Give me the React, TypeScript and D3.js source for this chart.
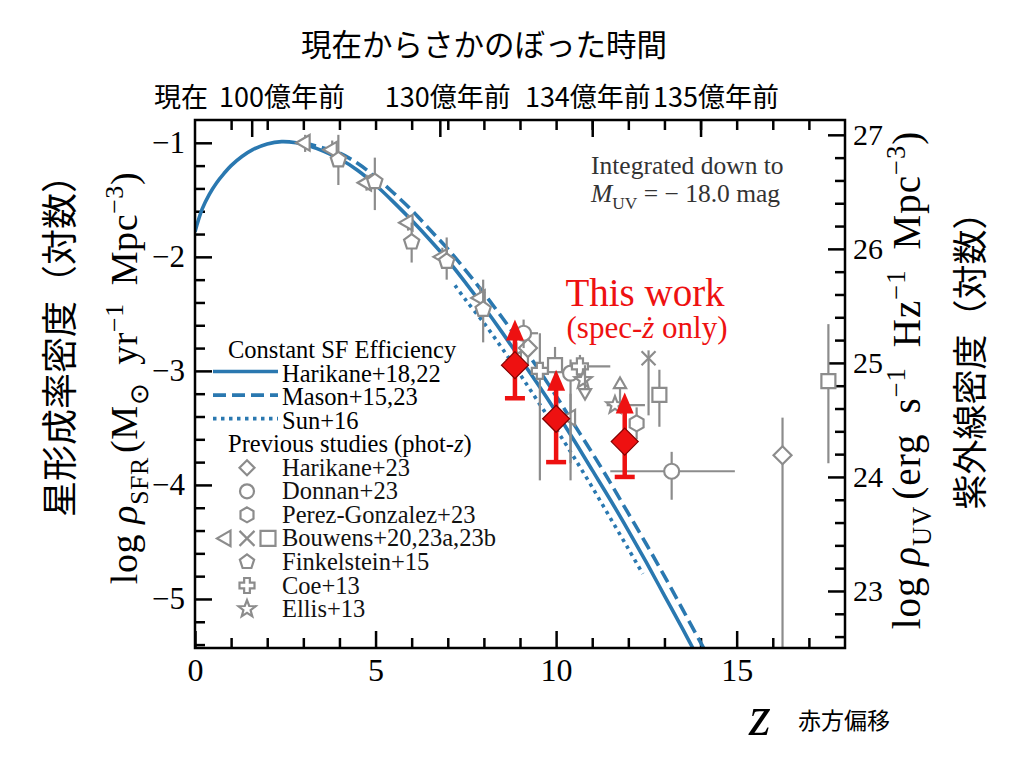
import * as d3 from "d3";
import { useEffect, useRef } from "react";

// model curves: [z, log SFR density]
const harikaneCurve: [number, number][] = [
  [0, -1.78], [0.2, -1.58], [0.4, -1.45], [0.6, -1.35], [0.8, -1.27],
  [1.0, -1.2], [1.3, -1.12], [1.6, -1.06], [2.0, -1.01], [2.4, -0.99],
  [2.8, -1.0], [3.2, -1.03], [3.6, -1.08], [4.0, -1.14], [4.5, -1.24],
  [5.0, -1.37], [5.5, -1.52], [6.0, -1.68], [6.5, -1.85], [7.0, -2.03],
  [7.5, -2.23], [8.0, -2.44], [8.5, -2.66], [9.0, -2.89], [9.5, -3.12],
  [10.0, -3.36], [10.5, -3.61], [11.0, -3.87], [11.5, -4.13], [12.0, -4.4],
  [12.5, -4.68], [13.0, -4.97], [13.5, -5.26], [14.0, -5.56],
];
const masonCurve: [number, number][] = [
  [3.0, -1.0], [3.5, -1.04], [4.0, -1.09], [4.5, -1.18], [5.0, -1.3],
  [5.5, -1.44], [6.0, -1.59], [6.5, -1.76], [7.0, -1.93], [7.5, -2.12],
  [8.0, -2.32], [8.5, -2.53], [9.0, -2.75], [9.5, -2.98], [10.0, -3.22],
  [10.5, -3.47], [11.0, -3.72], [11.5, -3.98], [12.0, -4.25], [12.5, -4.52],
  [13.0, -4.8], [13.5, -5.09], [14.0, -5.38], [14.3, -5.56],
];
const sunCurve: [number, number][] = [
  [7.2, -2.25], [7.5, -2.38], [8.0, -2.58], [8.5, -2.8], [9.0, -3.03],
  [9.5, -3.27], [10.0, -3.51], [10.5, -3.76], [11.0, -4.02], [11.5, -4.29],
  [12.0, -4.56], [12.4, -4.78],
];

// previous studies (phot-z)
type Pt = { z: number; y: number; lo?: number; hi?: number; zlo?: number; zhi?: number };
const bouwens20: Pt[] = [
  { z: 3.05, y: -1.0, lo: -1.08, hi: -0.93 },
  { z: 3.8, y: -1.06, lo: -1.13, hi: -0.98 },
  { z: 4.75, y: -1.35, lo: -1.42, hi: -1.28 },
  { z: 5.9, y: -1.7, lo: -1.77, hi: -1.63 },
  { z: 6.85, y: -2.0, lo: -2.08, hi: -1.92 },
  { z: 7.9, y: -2.36, lo: -2.46, hi: -2.26 },
  { z: 8.9, y: -2.9, lo: -3.05, hi: -2.75 },
  { z: 10.4, y: -3.41, lo: -3.81, hi: -3.2 },
];
const bouwens23x: Pt[] = [{ z: 12.56, y: -2.89, lo: -3.39, hi: -2.82 }];
const bouwens23sq: Pt[] = [
  { z: 9.97, y: -2.95, lo: -3.14, hi: -2.79 },
  { z: 12.86, y: -3.21, lo: -3.49, hi: -2.99 },
  { z: 17.54, y: -3.09, lo: -3.81, hi: -2.59 },
];
const finkelstein15: Pt[] = [
  { z: 3.97, y: -1.15, lo: -1.37, hi: -0.93 },
  { z: 4.98, y: -1.34, lo: -1.59, hi: -1.13 },
  { z: 6.0, y: -1.87, lo: -2.05, hi: -1.7 },
  { z: 6.97, y: -2.04, lo: -2.2, hi: -1.83 },
  { z: 7.98, y: -2.46, lo: -2.75, hi: -2.2 },
];
const harikane23: Pt[] = [
  { z: 9.22, y: -2.8, lo: -2.95, hi: -2.68 },
  { z: 16.27, y: -3.74, lo: -5.6, hi: -3.41 },
];
const donnan23: Pt[] = [
  { z: 9.1, y: -2.67, lo: -2.8, hi: -2.55, zlo: 8.8, zhi: 9.5 },
  { z: 10.4, y: -3.02, lo: -3.96, hi: -2.9 },
  { z: 13.2, y: -3.88, lo: -4.13, hi: -3.71, zlo: 11.5, zhi: 14.95 },
];
const perezGonzalez23: Pt[] = [{ z: 12.23, y: -3.46, lo: -3.6, hi: -3.32 }];
const coe13: Pt[] = [
  { z: 9.55, y: -3.0, lo: -3.96, hi: -2.67, zlo: 9.3, zhi: 9.8 },
  { z: 10.66, y: -2.96, lo: -3.06, hi: -2.86, zlo: 10.4, zhi: 11.5 },
];
const ellis13: Pt[] = [
  { z: 10.75, y: -3.08 },
  { z: 11.63, y: -3.3, zlo: 11.4, zhi: 12.46 },
];
const lowerLimits: Pt[] = [{ z: 11.77, y: -3.12, lo: -3.3, hi: -3.12 }];
const upperLimits: Pt[] = [{ z: 10.8, y: -3.19, lo: -3.19, hi: -2.95 }];

// this work (spec-z only): lower error and arrow tip
const thisWorkZ = [8.86, 10.0, 11.9];
const thisWorkY = [-2.95, -3.42, -3.62];
const thisWorkLo = [-3.24, -3.8, -3.93];
const thisWorkTip = [-2.55, -2.99, -3.19];

const X_DOMAIN: [number, number] = [0, 18];
const Y_DOMAIN: [number, number] = [-5.43, -0.8];
const UV_OFFSET = 27.93;
const xTicks = [0, 5, 10, 15];
const yTicks = [-1, -2, -3, -4, -5];
const uvTicks = [23, 24, 25, 26, 27];
const topTickZ = [1.57, 6.78, 11.0, 14.0];
const topLabels = ["現在", "100億年前", "130億年前", "134億年前", "135億年前"];
const topLabelZ = [-0.39, 2.41, 7.0, 10.88, 14.43];

const BLUE = "#2a78b0";
const GRAY = "#8c8c8c";
const RED = "#ee1111";
const SERIF = "'Liberation Serif', 'Times New Roman', serif";
const JP = "'Noto Sans CJK JP', sans-serif";

function markerPath(kind: string, s: number): string {
  const poly = (n: number, r: number, a0: number) =>
    "M" +
    d3
      .range(n)
      .map((i) => {
        const a = a0 + (i * 2 * Math.PI) / n;
        return `${r * Math.cos(a)},${r * Math.sin(a)}`;
      })
      .join("L") +
    "Z";
  switch (kind) {
    case "diamond":
      return `M0,${-s}L${s},0L0,${s}L${-s},0Z`;
    case "circle":
      return d3.symbol(d3.symbolCircle, Math.PI * s * s)() as string;
    case "hexagon":
      return poly(6, s, -Math.PI / 2);
    case "pentagon":
      return poly(5, s, -Math.PI / 2);
    case "ltri":
      return poly(3, s, Math.PI);
    case "utri":
      return poly(3, s, -Math.PI / 2);
    case "dtri":
      return poly(3, s, Math.PI / 2);
    case "square":
      return `M${-s},${-s}H${s}V${s}H${-s}Z`;
    case "x":
      return `M${-s},${-s}L${s},${s}M${-s},${s}L${s},${-s}`;
    case "plus": {
      const w = s * 0.38;
      return `M${-w},${-s}H${w}V${-w}H${s}V${w}H${w}V${s}H${-w}V${w}H${-s}V${-w}H${-w}Z`;
    }
    case "star": {
      const pts = d3.range(10).map((i) => {
        const r = i % 2 === 0 ? s : s * 0.42;
        const a = -Math.PI / 2 + (i * Math.PI) / 5;
        return `${r * Math.cos(a)},${r * Math.sin(a)}`;
      });
      return "M" + pts.join("L") + "Z";
    }
  }
  return "";
}

const studies: { data: Pt[]; kind: string; size: number }[] = [
  { data: bouwens20, kind: "ltri", size: 9 },
  { data: finkelstein15, kind: "pentagon", size: 8 },
  { data: harikane23, kind: "diamond", size: 9 },
  { data: donnan23, kind: "circle", size: 7.5 },
  { data: perezGonzalez23, kind: "hexagon", size: 8 },
  { data: bouwens23sq, kind: "square", size: 7 },
  { data: bouwens23x, kind: "x", size: 7 },
  { data: coe13, kind: "plus", size: 8 },
  { data: ellis13, kind: "star", size: 9 },
  { data: lowerLimits, kind: "utri", size: 7 },
  { data: upperLimits, kind: "dtri", size: 7 },
];

const legendMarkers: { label: string; kinds: string[] }[] = [
  { label: "Harikane+23", kinds: ["diamond"] },
  { label: "Donnan+23", kinds: ["circle"] },
  { label: "Perez-Gonzalez+23", kinds: ["hexagon"] },
  { label: "Bouwens+20,23a,23b", kinds: ["ltri", "x", "square"] },
  { label: "Finkelstein+15", kinds: ["pentagon"] },
  { label: "Coe+13", kinds: ["plus"] },
  { label: "Ellis+13", kinds: ["star"] },
];
const legendLines = [
  { label: "Harikane+18,22", dash: null as string | null },
  { label: "Mason+15,23", dash: "13 6" },
  { label: "Sun+16", dash: "3.5 4.5" },
];

type Part = { t: string; it?: boolean; sub?: boolean; sup?: boolean; gap?: number };

function richText(
  sel: d3.Selection<SVGTextElement, unknown, null, undefined>,
  parts: Part[],
  fs: number,
) {
  let shift = 0;
  parts.forEach((p) => {
    const target = p.sub ? fs * 0.28 : p.sup ? -fs * 0.38 : 0;
    const ts = sel
      .append("tspan")
      .attr("dy", target - shift)
      .attr("font-size", p.sub || p.sup ? fs * 0.68 : fs)
      .attr("font-style", p.it ? "italic" : "normal")
      .text(p.t);
    if (p.gap) ts.attr("dx", p.gap);
    shift = target;
  });
}

export default function App() {
  const svgRef = useRef<SVGSVGElement>(null);

  useEffect(() => {
    if (!svgRef.current) return;
    const svg = d3.select(svgRef.current);
    svg.selectAll("*").remove();

    const x = d3.scaleLinear().domain(X_DOMAIN).range([195, 845]);
    const y = d3.scaleLinear().domain(Y_DOMAIN).range([648, 120]);
    const yUV = d3
      .scaleLinear()
      .domain([Y_DOMAIN[0] + UV_OFFSET, Y_DOMAIN[1] + UV_OFFSET])
      .range([648, 120]);

    svg.append("defs").append("clipPath").attr("id", "plotClip")
      .append("rect").attr("x", 195).attr("y", 120).attr("width", 650).attr("height", 528);

    // Axes
    const styleAxis = (g: d3.Selection<SVGGElement, unknown, null, undefined>, fs: number) => {
      g.select(".domain").remove();
      g.selectAll(".tick line").attr("stroke", "#000").attr("stroke-width", 2.5);
      g.selectAll(".tick text").attr("font-family", SERIF).attr("font-size", fs).attr("fill", "#000");
    };
    const minorY = d3.range(-27, -4).map((v) => v / 5).filter((v) => !Number.isInteger(v));
    const minorUV = d3.range(113, 136).map((v) => v / 5).filter((v) => !Number.isInteger(v));
    const minorX = d3.range(1, 18).filter((v) => v % 5 !== 0);

    const left = svg.append("g").attr("transform", "translate(195,0)");
    left.call(d3.axisLeft(y).tickValues(yTicks).tickSize(-17).tickPadding(10).tickFormat(d3.format("d")));
    styleAxis(left, 31);
    const leftMinor = svg.append("g").attr("transform", "translate(195,0)");
    leftMinor.call(d3.axisLeft(y).tickValues(minorY).tickSize(-10).tickFormat(() => ""));
    styleAxis(leftMinor, 10);

    const right = svg.append("g").attr("transform", "translate(845,0)");
    right.call(d3.axisRight(yUV).tickValues(uvTicks).tickSize(-17).tickPadding(8).tickFormat(d3.format("d")));
    styleAxis(right, 30);
    const rightMinor = svg.append("g").attr("transform", "translate(845,0)");
    rightMinor.call(d3.axisRight(yUV).tickValues(minorUV).tickSize(-10).tickFormat(() => ""));
    styleAxis(rightMinor, 10);

    const bottom = svg.append("g").attr("transform", "translate(0,648)");
    bottom.call(d3.axisBottom(x).tickValues(xTicks).tickSize(-17).tickPadding(10).tickFormat(d3.format("d")));
    styleAxis(bottom, 32);
    const bottomMinor = svg.append("g").attr("transform", "translate(0,648)");
    bottomMinor.call(d3.axisBottom(x).tickValues(minorX).tickSize(-10).tickFormat(() => ""));
    styleAxis(bottomMinor, 10);

    const top = svg.append("g").attr("transform", "translate(0,120)");
    top.call(d3.axisTop(x).tickValues(topTickZ).tickSize(-17).tickFormat(() => ""));
    styleAxis(top, 10);
    const topMinor = svg.append("g").attr("transform", "translate(0,120)");
    topMinor.call(d3.axisTop(x).tickValues(d3.range(1, 18)).tickSize(-10).tickFormat(() => ""));
    styleAxis(topMinor, 10);

    // Top labels
    svg.append("text").attr("x", 484).attr("y", 56).attr("text-anchor", "middle")
      .attr("font-family", JP).attr("font-size", 30.5).text("現在からさかのぼった時間");
    svg.selectAll(".toplab").data(topLabels).enter().append("text")
      .attr("x", (_d, i) => x(topLabelZ[i])).attr("y", 107).attr("text-anchor", "middle")
      .attr("font-family", JP).attr("font-size", 27).text((d) => d);

    const plot = svg.append("g").attr("clip-path", "url(#plotClip)");

    // Model curves
    const line = d3.line<[number, number]>().x((d) => x(d[0])).y((d) => y(d[1])).curve(d3.curveCatmullRom);
    [
      { d: harikaneCurve, dash: null },
      { d: masonCurve, dash: "13 6" },
      { d: sunCurve, dash: "3.5 4.5" },
    ].forEach((c) => {
      const p = plot.append("path").datum(c.d).attr("fill", "none").attr("stroke", BLUE)
        .attr("stroke-width", 3.6).attr("d", line);
      if (c.dash) p.attr("stroke-dasharray", c.dash);
    });

    // Previous studies
    studies.forEach((s) => {
      const g = plot.append("g");
      s.data.forEach((p) => {
        if (p.lo !== undefined && p.hi !== undefined)
          g.append("line").attr("x1", x(p.z)).attr("x2", x(p.z)).attr("y1", y(p.lo)).attr("y2", y(p.hi))
            .attr("stroke", GRAY).attr("stroke-width", 2.2);
        if (p.zlo !== undefined && p.zhi !== undefined)
          g.append("line").attr("x1", x(p.zlo)).attr("x2", x(p.zhi)).attr("y1", y(p.y)).attr("y2", y(p.y))
            .attr("stroke", GRAY).attr("stroke-width", 2.2);
      });
      g.selectAll(".m").data(s.data).enter().append("path")
        .attr("transform", (p) => `translate(${x(p.z)},${y(p.y)})`)
        .attr("d", markerPath(s.kind, s.size))
        .attr("fill", s.kind === "x" ? "none" : "#fff")
        .attr("stroke", GRAY).attr("stroke-width", 2.2);
    });

    // This work
    const red = svg.append("g");
    thisWorkZ.forEach((z, i) => {
      const cx = x(z);
      red.append("line").attr("x1", cx).attr("x2", cx).attr("y1", y(thisWorkLo[i]))
        .attr("y2", y(thisWorkTip[i]) + 14).attr("stroke", RED).attr("stroke-width", 4.5);
      red.append("line").attr("x1", cx - 10).attr("x2", cx + 10).attr("y1", y(thisWorkLo[i]))
        .attr("y2", y(thisWorkLo[i])).attr("stroke", RED).attr("stroke-width", 4.5);
      const ty = y(thisWorkTip[i]);
      red.append("path").attr("d", `M${cx},${ty}L${cx + 9},${ty + 21}L${cx - 9},${ty + 21}Z`).attr("fill", RED);
      red.append("path").attr("transform", `translate(${cx},${y(thisWorkY[i])})`)
        .attr("d", markerPath("diamond", 13.5)).attr("fill", RED).attr("stroke", "#800000").attr("stroke-width", 1.2);
    });

    svg.append("text").attr("x", 645).attr("y", 306).attr("text-anchor", "middle")
      .attr("font-family", SERIF).attr("font-size", 39).attr("fill", RED).text("This work");
    const sp = svg.append("text").attr("x", 647).attr("y", 338).attr("text-anchor", "middle")
      .attr("font-family", SERIF).attr("fill", RED);
    richText(sp, [{ t: "(spec-" }, { t: "ż", it: true }, { t: " only)" }], 31);

    // Integrated note
    svg.append("text").attr("x", 591).attr("y", 174).attr("font-family", SERIF)
      .attr("font-size", 25.5).attr("fill", "#333").text("Integrated down to");
    const mu = svg.append("text").attr("x", 591).attr("y", 202).attr("font-family", SERIF).attr("fill", "#333");
    richText(mu, [{ t: "M", it: true }, { t: "UV", sub: true }, { t: " = − 18.0 mag" }], 25.5);

    // Legend
    const LY0 = 350;
    const LS = 23.55;
    const LF = 24.5;
    const lg = svg.append("g").attr("font-family", SERIF).attr("font-size", LF);
    lg.append("text").attr("x", 228).attr("y", LY0 + 8).text("Constant SF Efficiency");
    legendLines.forEach((l, i) => {
      const cy = LY0 + LS * (i + 1);
      const ln = lg.append("line").attr("x1", 213).attr("x2", 278).attr("y1", cy - 2).attr("y2", cy - 2)
        .attr("stroke", BLUE).attr("stroke-width", 3.6);
      if (l.dash) ln.attr("stroke-dasharray", l.dash);
      lg.append("text").attr("x", 282).attr("y", cy + 8).text(l.label);
    });
    const pv = lg.append("text").attr("x", 228).attr("y", LY0 + LS * 4 + 8);
    richText(pv, [{ t: "Previous studies (phot-" }, { t: "z", it: true }, { t: ")" }], LF);
    legendMarkers.forEach((m, i) => {
      const cy = LY0 + LS * (i + 5);
      const xs = m.kinds.length === 1 ? [247] : [226, 247, 268];
      m.kinds.forEach((k, j) => {
        lg.append("path").attr("transform", `translate(${xs[j]},${cy})`)
          .attr("d", markerPath(k, k === "ltri" ? 9 : k === "star" ? 9 : k === "circle" ? 7 : 7.5))
          .attr("fill", k === "x" ? "none" : "#fff").attr("stroke", GRAY).attr("stroke-width", 2.2);
      });
      lg.append("text").attr("x", 282).attr("y", cy + 8).attr("fill", "#111").text(m.label);
    });

    // Axis titles
    const ax = svg.append("text").attr("transform", "translate(137,378) rotate(-90)")
      .attr("text-anchor", "middle").attr("font-family", SERIF).attr("letter-spacing", 0.6);
    richText(ax, [
      { t: "log " }, { t: "ρ", it: true }, { t: "SFR", sub: true },
      { t: "(M", gap: 4 }, { t: "⊙", sub: true }, { t: "yr", gap: 18 }, { t: "−1", sup: true },
      { t: "Mpc", gap: 18 }, { t: "−3", sup: true }, { t: ")" },
    ], 38);
    svg.append("text").attr("transform", "translate(73,337) rotate(-90)").attr("text-anchor", "middle")
      .attr("font-family", JP).attr("font-size", 36).text("星形成率密度（対数）");

    const ar = svg.append("text").attr("transform", "translate(920,380) rotate(-90)")
      .attr("text-anchor", "middle").attr("font-family", SERIF).attr("letter-spacing", 1);
    richText(ar, [
      { t: "log " }, { t: "ρ", it: true }, { t: "UV", sub: true },
      { t: "(erg", gap: 6 }, { t: "s", gap: 20 }, { t: "−1", sup: true },
      { t: "Hz", gap: 20 }, { t: "−1", sup: true },
      { t: "Mpc", gap: 20 }, { t: "−3", sup: true }, { t: ")" },
    ], 39);
    svg.append("text").attr("transform", "translate(983,352) rotate(-90)").attr("text-anchor", "middle")
      .attr("font-family", JP).attr("font-size", 35).text("紫外線密度（対数）");

    svg.append("text").attr("x", 760).attr("y", 735).attr("text-anchor", "middle")
      .attr("font-family", SERIF).attr("font-style", "italic").attr("font-size", 56).text("z");
    svg.append("text").attr("x", 798).attr("y", 729).attr("font-family", JP)
      .attr("font-size", 23).text("赤方偏移");

    // Frame
    svg.append("rect").attr("x", 195).attr("y", 120).attr("width", 650).attr("height", 528)
      .attr("fill", "none").attr("stroke", "#000").attr("stroke-width", 2.5);
  }, []);

  return (
    <div style={{ position: "absolute", left: 0, top: 0, width: 1024, height: 765, background: "#fff" }}>
      <svg ref={svgRef} width={1024} height={765} style={{ display: "block" }} />
    </div>
  );
}
